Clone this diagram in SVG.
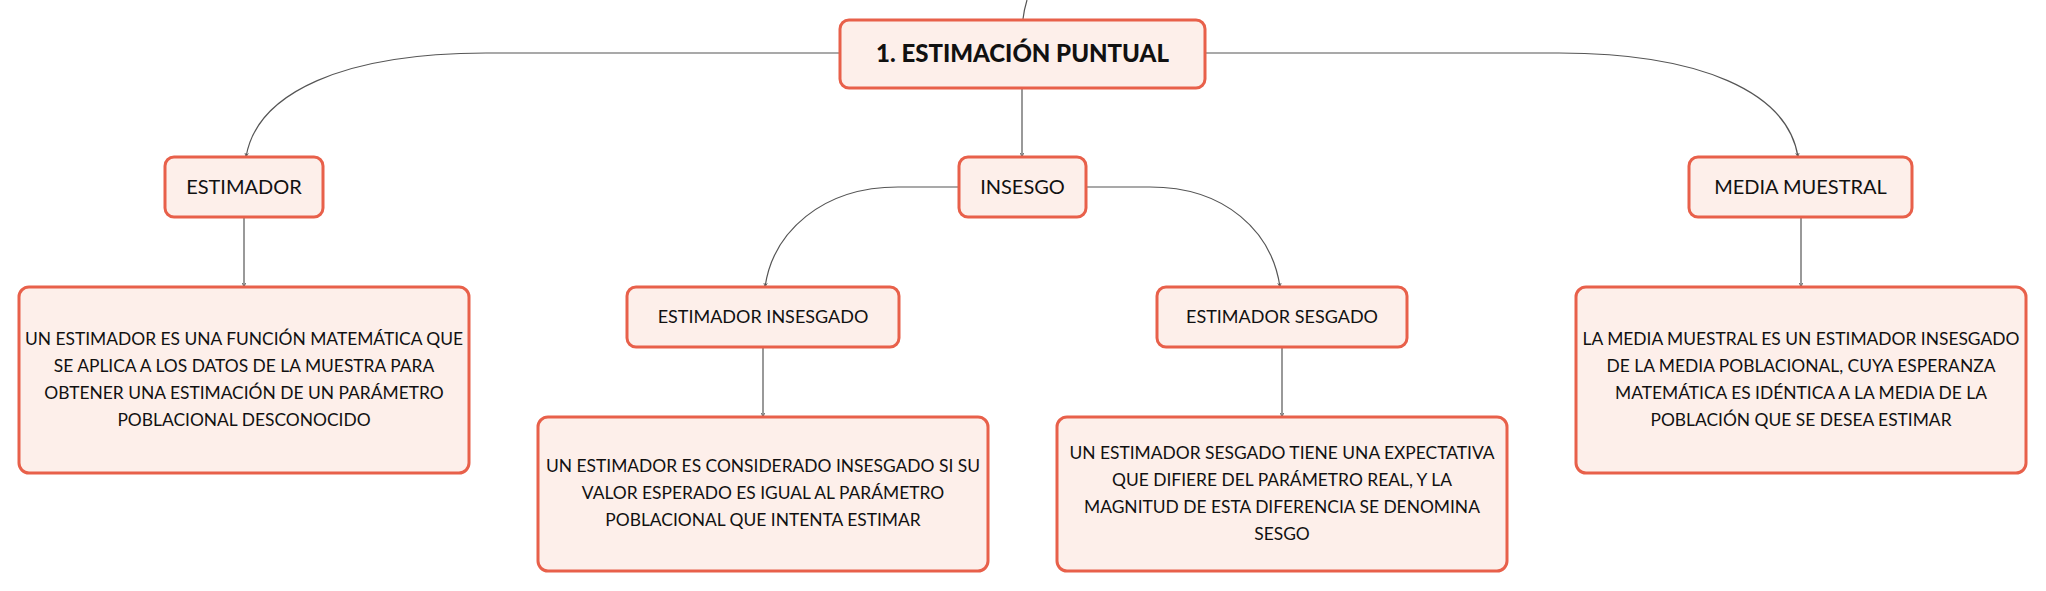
<svg xmlns="http://www.w3.org/2000/svg" width="2046" height="591" viewBox="0 0 2046 591">
<defs>
<style>
.box{fill:#FDEFEA;stroke:#E8604A;stroke-width:3}
.t{font-family:Lato,"Open Sans","Liberation Sans",sans-serif;fill:#111;text-anchor:middle}
.root{font-size:24px;font-weight:900}
.l1{font-size:20px}
.l2{font-size:18px}
.d{font-size:17.4px}
.c{fill:none;stroke:#555;stroke-width:1.2}
</style>
<marker id="ah" markerWidth="5" markerHeight="5" refX="4" refY="2.5" orient="auto" markerUnits="userSpaceOnUse">
<path d="M0,0.8 L4,2.5 L0,4.2" fill="none" stroke="#666" stroke-width="0.9"/>
</marker>
</defs>
<rect width="2046" height="591" fill="#fff"/>
<g id="connectors">
<path class="c" d="M1027,0 Q1024,10 1023,19"/>
<path class="c" d="M1022,88 V157" marker-end="url(#ah)"/>
<path class="c" d="M840,53 H486 C345,53 257,92 246,157" marker-end="url(#ah)"/>
<path class="c" d="M1205,53 H1559 C1700,53 1788,92 1798,157" marker-end="url(#ah)"/>
<path class="c" d="M959,187 H898 C822,187 773,232 765,287" marker-end="url(#ah)"/>
<path class="c" d="M1086,187 H1150 C1226,187 1272,232 1280,287" marker-end="url(#ah)"/>
<path class="c" d="M244,217 V287" marker-end="url(#ah)"/>
<path class="c" d="M763,347 V417" marker-end="url(#ah)"/>
<path class="c" d="M1282,347 V417" marker-end="url(#ah)"/>
<path class="c" d="M1801,217 V287" marker-end="url(#ah)"/>
</g>
<g id="root">
<rect class="box" x="840" y="20" width="365" height="68" rx="9"/>
<text class="t root" x="1022.5" y="62">1. ESTIMACIÓN PUNTUAL</text>
</g>
<g id="estimador">
<rect class="box" x="165" y="157" width="158" height="60" rx="9"/>
<text class="t l1" x="244" y="194">ESTIMADOR</text>
</g>
<g id="insesgo">
<rect class="box" x="959" y="157" width="127" height="60" rx="9"/>
<text class="t l1" x="1022.5" y="194">INSESGO</text>
</g>
<g id="media-muestral">
<rect class="box" x="1689" y="157" width="223" height="60" rx="9"/>
<text class="t l1" x="1800.5" y="194">MEDIA MUESTRAL</text>
</g>
<g id="estimador-insesgado">
<rect class="box" x="627" y="287" width="272" height="60" rx="9"/>
<text class="t l2" x="763" y="323">ESTIMADOR INSESGADO</text>
</g>
<g id="estimador-sesgado">
<rect class="box" x="1157" y="287" width="250" height="60" rx="9"/>
<text class="t l2" x="1282" y="323">ESTIMADOR SESGADO</text>
</g>
<g id="def-estimador">
<rect class="box" x="19" y="287" width="450" height="186" rx="10"/>
<text class="t d" x="244" y="345">UN ESTIMADOR ES UNA FUNCIÓN MATEMÁTICA QUE</text>
<text class="t d" x="244" y="372">SE APLICA A LOS DATOS DE LA MUESTRA PARA</text>
<text class="t d" x="244" y="399">OBTENER UNA ESTIMACIÓN DE UN PARÁMETRO</text>
<text class="t d" x="244" y="426">POBLACIONAL DESCONOCIDO</text>
</g>
<g id="def-insesgado">
<rect class="box" x="538" y="417" width="450" height="154" rx="10"/>
<text class="t d" x="763" y="472">UN ESTIMADOR ES CONSIDERADO INSESGADO SI SU</text>
<text class="t d" x="763" y="499">VALOR ESPERADO ES IGUAL AL PARÁMETRO</text>
<text class="t d" x="763" y="526">POBLACIONAL QUE INTENTA ESTIMAR</text>
</g>
<g id="def-sesgado">
<rect class="box" x="1057" y="417" width="450" height="154" rx="10"/>
<text class="t d" x="1282" y="459">UN ESTIMADOR SESGADO TIENE UNA EXPECTATIVA</text>
<text class="t d" x="1282" y="486">QUE DIFIERE DEL PARÁMETRO REAL, Y LA</text>
<text class="t d" x="1282" y="513">MAGNITUD DE ESTA DIFERENCIA SE DENOMINA</text>
<text class="t d" x="1282" y="540">SESGO</text>
</g>
<g id="def-media">
<rect class="box" x="1576" y="287" width="450" height="186" rx="10"/>
<text class="t d" x="1801" y="345">LA MEDIA MUESTRAL ES UN ESTIMADOR INSESGADO</text>
<text class="t d" x="1801" y="372">DE LA MEDIA POBLACIONAL, CUYA ESPERANZA</text>
<text class="t d" x="1801" y="399">MATEMÁTICA ES IDÉNTICA A LA MEDIA DE LA</text>
<text class="t d" x="1801" y="426">POBLACIÓN QUE SE DESEA ESTIMAR</text>
</g>
</svg>
